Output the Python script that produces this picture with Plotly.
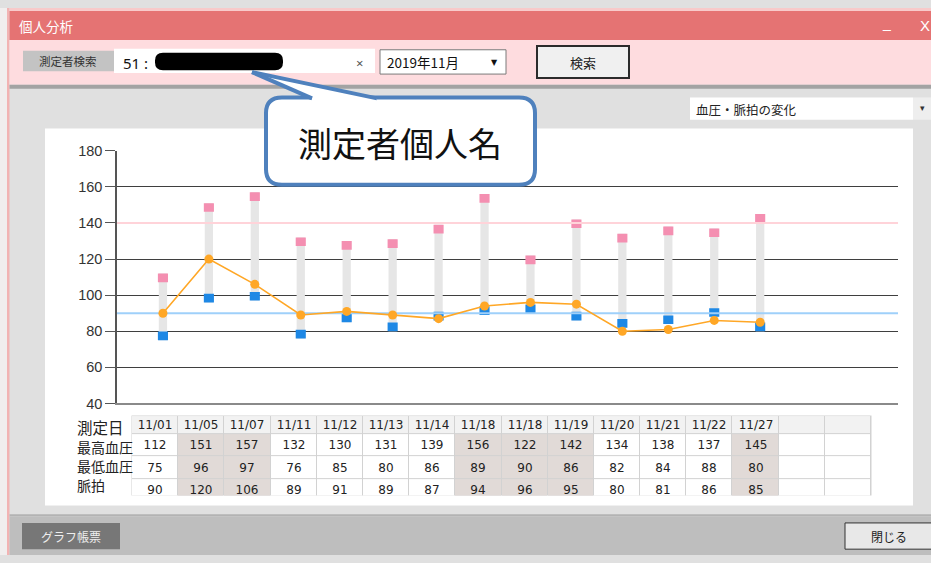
import plotly.graph_objects as go

# ---------------- data ----------------
dates = ['11/01', '11/05', '11/07', '11/11', '11/12', '11/13', '11/14',
         '11/18', '11/18', '11/19', '11/20', '11/21', '11/22', '11/27']
systolic = [112, 151, 157, 132, 130, 131, 139, 156, 122, 142, 134, 138, 137, 145]
diastolic = [75, 96, 97, 76, 85, 80, 86, 89, 90, 86, 82, 84, 88, 80]
pulse = [90, 120, 106, 89, 91, 89, 87, 94, 96, 95, 80, 81, 86, 85]
highlight = [0, 1, 1, 0, 0, 0, 0, 1, 1, 1, 0, 0, 0, 1]
blank_columns = 2
row_labels = ['測定日', '最高血圧', '最低血圧', '脈拍']
y_ticks = [40, 60, 80, 100, 120, 140, 160, 180]
upper_ref = 140
lower_ref = 90

# ---------------- layout helpers ----------------
W, H = 931, 563
CAP = 4.8  # height of the coloured end caps (data units)
ROW_EDGES = [0, 18.3, 41.6, 64.9, 88.2]  # table row boundaries (px from table top)
CJK = 'Noto Sans CJK JP'


def px(x):
    return x / W


def py(y):
    return 1 - y / H


def rrect_path(x0, y0, x1, y1, r):
    return (f"M {px(x0 + r)},{py(y0)} L {px(x1 - r)},{py(y0)} "
            f"Q {px(x1)},{py(y0)} {px(x1)},{py(y0 + r)} L {px(x1)},{py(y1 - r)} "
            f"Q {px(x1)},{py(y1)} {px(x1 - r)},{py(y1)} L {px(x0 + r)},{py(y1)} "
            f"Q {px(x0)},{py(y1)} {px(x0)},{py(y1 - r)} L {px(x0)},{py(y0 + r)} "
            f"Q {px(x0)},{py(y0)} {px(x0 + r)},{py(y0)} Z")


n = len(dates)
xs = list(range(n))

fig = go.Figure()

# range bars
fig.add_trace(go.Bar(x=xs, y=[s - d for s, d in zip(systolic, diastolic)], base=diastolic,
                     width=0.18, marker=dict(color='#E6E6E6', line=dict(width=0)),
                     hoverinfo='skip'))
fig.add_trace(go.Bar(x=xs, y=[-CAP] * n, base=systolic, width=0.22,
                     marker=dict(color='#F48FB1', line=dict(width=0)), hoverinfo='skip'))
fig.add_trace(go.Bar(x=xs, y=[CAP] * n, base=diastolic, width=0.22,
                     marker=dict(color='#1E88E5', line=dict(width=0)), hoverinfo='skip'))

# reference lines
fig.add_trace(go.Scatter(x=[-1, 16], y=[upper_ref, upper_ref], mode='lines',
                         line=dict(color='#FFD3D9', width=2), hoverinfo='skip'))
fig.add_trace(go.Scatter(x=[-1, 16], y=[lower_ref, lower_ref], mode='lines',
                         line=dict(color='#9FD0FA', width=2), hoverinfo='skip'))

# pulse line
fig.add_trace(go.Scatter(x=xs, y=pulse, mode='lines+markers',
                         line=dict(color='#FFA726', width=1.6),
                         marker=dict(size=9, color='#FFA726'), hoverinfo='skip'))

# ---------------- table (heatmap on its own axes) ----------------
ncol = n + blank_columns
blank = [''] * blank_columns
z = [[2] * ncol] + [highlight + [0] * blank_columns for _ in range(3)]
text = [dates + blank,
        [str(v) for v in systolic] + blank,
        [str(v) for v in diastolic] + blank,
        [str(v) for v in pulse] + blank]
fig.add_trace(go.Heatmap(
    z=z, x=list(range(ncol)), y=ROW_EDGES, text=text, texttemplate='%{text}',
    textfont=dict(family='DejaVu Sans, Verdana', size=12, color='#222222'),
    colorscale=[[0, '#FFFFFF'], [0.33, '#FFFFFF'], [0.34, '#E1DAD7'], [0.66, '#E1DAD7'],
                [0.67, '#F2F2F2'], [1, '#F2F2F2']],
    zmin=0, zmax=2, showscale=False, xgap=1, ygap=1, hoverinfo='skip',
    xaxis='x2', yaxis='y2'))

shapes = []


def rect(x0, y0, x1, y1, fill, line_color=None, lw=0, layer='below'):
    shapes.append(dict(type='rect', xref='paper', yref='paper',
                       x0=px(x0), x1=px(x1), y0=py(y1), y1=py(y0),
                       fillcolor=fill, layer=layer,
                       line=dict(color=line_color or fill, width=lw)))


# window chrome
rect(0, 0, 8, H, '#F1EEEE')
rect(7, 0, 9.5, H, '#F2B3B3')
rect(9.5, 0, W, 3, '#F8CACA')
rect(9.5, 3, W, 33, '#E57373')
rect(9.5, 33, W, 79, '#FEDCDF')
rect(9.5, 79, W, 83, '#A3A3A3')
rect(9.5, 521, W, 523, '#B3B3B3')
rect(9.5, 523, W, H, '#BEBEBE')
# chart panel
rect(45, 124, 913, 512, '#FFFFFF')
# dropdown for chart type
rect(690, 92, 913, 115, '#FFFFFF')
rect(913, 92, W, 115, '#EEEEEE')
# toolbar widgets
rect(23, 44, 114, 65, '#C3C3C3')
rect(114, 42, 375, 67, '#FFFFFF')
shapes.append(dict(type='path', xref='paper', yref='paper', layer='below',
                   path=rrect_path(155, 46, 283, 64, 8), fillcolor='#000000',
                   line=dict(color='#000000', width=0)))
rect(380, 43, 506, 68, '#FFFFFF', '#7A7A7A', 1)
rect(537, 39, 629, 72, '#F0F0F0', '#2B2B2B', 2)
# bottom buttons
rect(22, 530, 120, 557, '#777777')
rect(845, 530, 935, 557, '#E8E8E8', '#333333', 1)
# table border backdrop
rect(131.5, 419.5, 871.5, 501.7, '#D2D2D2')

# callout (above plot)
shapes.append(dict(type='path', xref='paper', yref='paper', layer='above',
                   path=rrect_path(266, 92, 535, 182, 16), fillcolor='#FFFFFF',
                   line=dict(color='#4F81BD', width=4)))
T, A, B = (252, 66), (312, 93), (377, 93)
shapes.append(dict(type='path', xref='paper', yref='paper', layer='above',
                   path=(f"M {px(T[0])},{py(T[1])} L {px(A[0])},{py(A[1])} "
                         f"L {px(A[0])},{py(97)} L {px(B[0])},{py(97)} "
                         f"L {px(B[0])},{py(B[1])} Z"),
                   fillcolor='#FFFFFF', line=dict(width=0)))
for P in (A, B):
    shapes.append(dict(type='line', xref='paper', yref='paper', layer='above',
                       x0=px(T[0]), y0=py(T[1]), x1=px(P[0]), y1=py(P[1]),
                       line=dict(color='#4F81BD', width=4)))

annotations = []


def label(x, y, s, size, color='#222222', family=CJK, xanchor='left'):
    annotations.append(dict(xref='paper', yref='paper', x=px(x), y=py(y), text=s,
                            showarrow=False, xanchor=xanchor, yanchor='middle',
                            font=dict(family=family, size=size, color=color)))


label(17, 19, '個人分析', 13.5, '#FFFFFF')
label(886, 15, '_', 14, '#FFFFFF', 'Liberation Sans', 'center')
label(925, 18, 'X', 15, '#FFFFFF', 'Liberation Sans', 'center')
label(68, 55, '測定者検索', 11.5, '#333333', CJK, 'center')
label(121, 57, '51 :', 15, '#111111', 'Noto Sans')
label(359, 57, '×', 13, '#555555', 'Noto Sans', 'center')
label(385, 56, '2019年11月', 13.5, '#111111')
label(494, 56, '▼', 8, '#111111', 'DejaVu Sans', 'center')
label(583, 56, '検索', 13, '#222222', CJK, 'center')
label(694, 104, '血圧・脈拍の変化', 12.5, '#222222')
label(922, 103, '▾', 9, '#333333', 'DejaVu Sans', 'center')
label(71, 544, 'グラフ帳票', 12, '#EEEEEE', CJK, 'center')
label(889, 544, '閉じる', 12, '#222222', CJK, 'center')
label(400, 138, '測定者個人名', 34, '#111111', CJK, 'center')
for lbl, yy, sz in zip(row_labels, [431.5, 452, 471.5, 491], [15.5, 14, 14, 14]):
    label(75, yy, lbl, sz)

fig.update_layout(
    width=W, height=H, margin=dict(l=0, r=0, t=0, b=0),
    paper_bgcolor='#E0E0E0', plot_bgcolor='rgba(0,0,0,0)',
    showlegend=False, barmode='overlay',
    xaxis=dict(domain=[px(117), px(898)], range=[-1, 16], showgrid=False,
               zeroline=False, showticklabels=False, ticks='',
               showline=True, linecolor='#8A8A8A', linewidth=2, fixedrange=True),
    yaxis=dict(domain=[py(407), py(147)], range=[40, 180], tickvals=y_ticks,
               showgrid=True, gridcolor='#3F3F3F', gridwidth=1, zeroline=False,
               showline=True, linecolor='#555555', linewidth=1.5,
               ticks='outside', ticklen=10, tickcolor='#555555',
               tickfont=dict(family='Liberation Sans, Arial', size=14.5, color='#333333'),
               fixedrange=True),
    xaxis2=dict(domain=[px(132), px(871)], range=[-0.5, 15.5], visible=False,
                anchor='y2', fixedrange=True),
    yaxis2=dict(domain=[py(501.7), py(420)], range=[81.7, 0], visible=False,
                anchor='x2', fixedrange=True),
    shapes=shapes, annotations=annotations,
)

fig.write_html('out.html', config={'displayModeBar': False},
               post_script="document.body.style.margin='0';document.body.style.overflow='hidden';")
